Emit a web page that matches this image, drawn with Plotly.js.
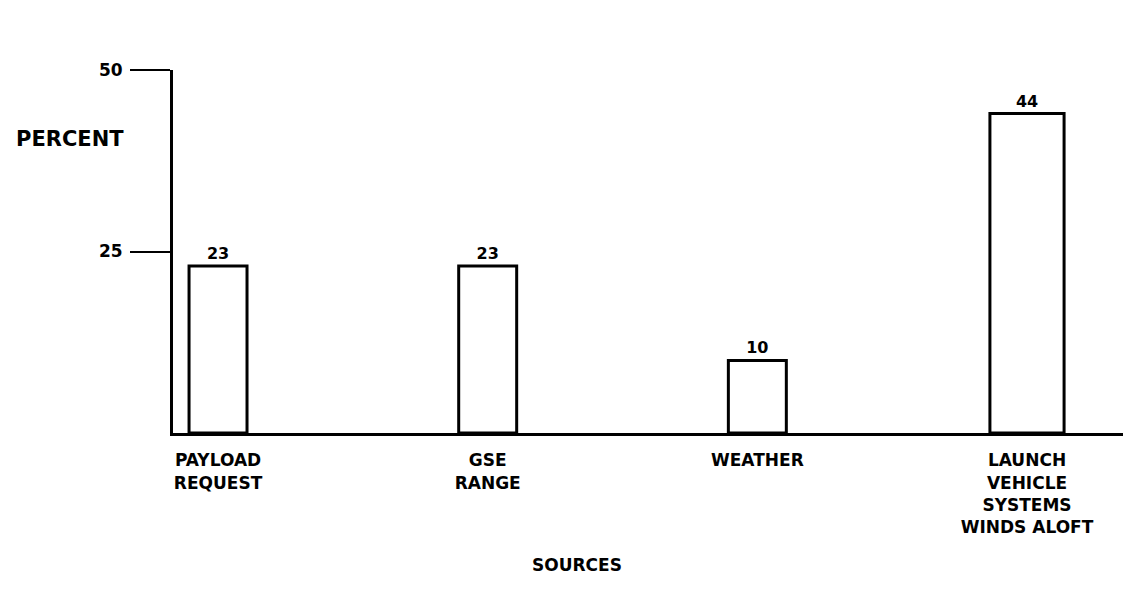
<!DOCTYPE html>
<html>
<head>
<meta charset="utf-8">
<script src="https://cdn.plot.ly/plotly-3.0.1.min.js"></script>
<style>
  html, body { margin: 0; padding: 0; background: #fff; }
  #chart { width: 1123px; height: 600px; }
</style>
</head>
<body>
<div id="chart"></div>
<script>
// Data
const categories = [
  "PAYLOAD<br>REQUEST",
  "GSE<br>RANGE",
  "WEATHER",
  "LAUNCH<br>VEHICLE<br>SYSTEMS<br>WINDS ALOFT"
];
const percentValues = [23, 23, 10, 44];
const yTickValues = [25, 50];
const yTickLabels = ["25", "50"];
const yAxisTitle = "PERCENT";
const xAxisTitle = "SOURCES";

const FONT = "DejaVu Sans, Liberation Sans, Arial, sans-serif";

const trace = {
  type: "bar",
  x: categories,
  y: percentValues,
  text: percentValues.map(String),
  textposition: "outside",
  cliponaxis: false,
  textfont: { family: FONT, size: 16, color: "#000", weight: "bold" },
  width: [0.215, 0.215, 0.215, 0.275],
  marker: { color: "#ffffff", line: { color: "#000000", width: 3 } },
  hoverinfo: "skip"
};

const layout = {
  width: 1123,
  height: 600,
  margin: { l: 173, r: 0, t: 70, b: 167 },
  paper_bgcolor: "#ffffff",
  plot_bgcolor: "#ffffff",
  showlegend: false,
  bargap: 0,
  font: { family: FONT, color: "#000", size: 17, weight: "bold" },
  xaxis: {
    type: "category",
    range: [-0.167, 3.356],
    showline: true,
    linecolor: "#000",
    linewidth: 3,
    showgrid: false,
    zeroline: false,
    ticks: "",
    ticklabelstandoff: 10,
    tickfont: { family: FONT, size: 17, color: "#000", weight: "bold" },
    fixedrange: true
  },
  yaxis: {
    range: [0, 50],
    showline: true,
    linecolor: "#000",
    linewidth: 3,
    showgrid: false,
    zeroline: false,
    tickmode: "array",
    tickvals: yTickValues,
    ticktext: yTickLabels,
    ticks: "outside",
    ticklen: 40,
    tickwidth: 2,
    tickcolor: "#000",
    ticklabelstandoff: 4,
    tickfont: { family: FONT, size: 17, color: "#000", weight: "bold" },
    fixedrange: true
  },
  annotations: [
    {
      text: yAxisTitle,
      xref: "paper", yref: "paper",
      x: -0.108, y: 0.81,
      xanchor: "center", yanchor: "middle",
      showarrow: false,
      font: { family: FONT, size: 21, color: "#000", weight: "bold" }
    },
    {
      text: xAxisTitle,
      xref: "paper", yref: "paper",
      x: 0.425, y: -0.364,
      xanchor: "center", yanchor: "middle",
      showarrow: false,
      font: { family: FONT, size: 17, color: "#000", weight: "bold" }
    }
  ]
};

Plotly.newPlot("chart", [trace], layout, { displayModeBar: false, staticPlot: true });
</script>
</body>
</html>
